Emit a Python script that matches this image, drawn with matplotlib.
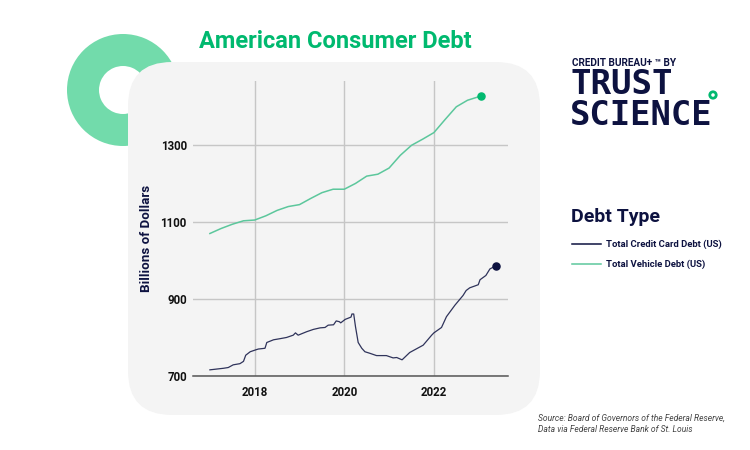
import matplotlib
matplotlib.use('Agg')
import matplotlib.pyplot as plt
from matplotlib.patches import FancyBboxPatch, Wedge, Circle

plt.rcParams['font.family'] = ['Roboto', 'DejaVu Sans']

NAVY = '#0d1240'
GREEN = '#00b96f'
LINE_GREEN = '#5cc79c'
DONUT = '#72dbab'

# total vehicle debt, quarterly
vehicle_years = [2017.0, 2017.25, 2017.5, 2017.75, 2018.0, 2018.25, 2018.5, 2018.75,
                 2019.0, 2019.25, 2019.5, 2019.75, 2020.0, 2020.25, 2020.5, 2020.75,
                 2021.0, 2021.25, 2021.5, 2021.75, 2022.0, 2022.25, 2022.5, 2022.75, 2023.05]
vehicle_debt = [1070, 1083, 1094, 1103, 1105, 1116, 1130, 1140,
                1145, 1161, 1176, 1185, 1185, 1200, 1219, 1224,
                1240, 1273, 1299, 1315, 1332, 1366, 1399, 1416, 1427]

# total credit card debt
card_years = [2017.00, 2017.15, 2017.30, 2017.41, 2017.52, 2017.67, 2017.75, 2017.80, 2017.90,
              2018.00, 2018.08, 2018.23, 2018.27, 2018.42, 2018.57, 2018.71, 2018.86, 2018.91,
              2018.97, 2019.16, 2019.31, 2019.46, 2019.57, 2019.64, 2019.76, 2019.82, 2019.89,
              2019.92, 2020.02, 2020.15, 2020.17, 2020.21, 2020.25, 2020.31, 2020.39, 2020.46,
              2020.57, 2020.72, 2020.94, 2021.09, 2021.17, 2021.29, 2021.46, 2021.76, 2021.95,
              2022.00, 2022.17, 2022.28, 2022.47, 2022.65, 2022.72, 2022.80, 2022.92, 2022.99,
              2023.03, 2023.16, 2023.25, 2023.38]
card_debt = [716, 718, 720, 722, 729, 732, 738, 754, 763,
             767, 770, 772, 787, 794, 797, 800, 806, 812,
             806, 815, 821, 825, 826, 832, 833, 843, 841,
             838, 847, 853, 861, 861, 828, 787, 772, 763,
             759, 753, 753, 747, 748, 742, 761, 780, 806,
             812, 826, 854, 884, 909, 922, 929, 934, 937,
             950, 961, 978, 986]

x_ticks = [2018, 2020, 2022]
y_ticks = [700, 900, 1100, 1300]

fig = plt.figure(figsize=(7.5, 4.5), dpi=100, facecolor='white')

# background layer in pixels
bg = fig.add_axes([0, 0, 1, 1], zorder=0)
bg.set_xlim(0, 750)
bg.set_ylim(450, 0)
bg.axis('off')

bg.add_patch(Wedge((123, 90), 56, 0, 360, width=32, facecolor=DONUT, edgecolor='none'))
bg.add_patch(FancyBboxPatch((172, 106), 324, 265, boxstyle='round,pad=44,rounding_size=44',
                            facecolor='#f4f4f4', edgecolor='none'))

bg.text(335, 41, 'American Consumer Debt', color=GREEN, fontsize=17, fontweight='bold',
        ha='center', va='center')

# logo
bg.text(572, 63, 'CREDIT BUREAU+ ™ BY', color=NAVY, fontsize=7.2, fontweight='bold', va='center')
bg.text(570, 84, 'TRUST', color=NAVY, fontsize=24.6, fontweight='bold', family='DejaVu Sans Mono',
        va='center')
bg.text(570, 115.5, 'SCIENCE', color=NAVY, fontsize=24.4, fontweight='bold', family='DejaVu Sans Mono',
        va='center')
bg.add_patch(Circle((713, 95), 3.2, facecolor='white', edgecolor=GREEN, linewidth=2))

# legend
bg.text(571, 217, 'Debt Type', color=NAVY, fontsize=14, fontweight='bold', va='center')
bg.plot([572, 601], [244, 244], color=NAVY, lw=1.1)
bg.plot([572, 601], [264, 264], color=LINE_GREEN, lw=1.1)
bg.text(606, 244, 'Total Credit Card Debt (US)', color=NAVY, fontsize=6.8, fontweight='bold', va='center')
bg.text(606, 264, 'Total Vehicle Debt (US)', color=NAVY, fontsize=6.8, fontweight='bold', va='center')

bg.text(538, 418, 'Source: Board of Governors of the Federal Reserve,', color='#444444',
        fontsize=6.15, style='italic', va='center')
bg.text(538, 429, 'Data via Federal Reserve Bank of St. Louis', color='#444444',
        fontsize=6.15, style='italic', va='center')

# chart: 193-508 px wide, 81-376 px tall
ax = fig.add_axes([193 / 750, 1 - 376 / 450, 315 / 750, 295 / 450], zorder=1)
ax.patch.set_alpha(0)
ax.set_xlim(2016.623, 2023.654)
ax.set_ylim(700, 1466)

ax.grid(True, color='#c6c6c6', linewidth=1)
ax.set_axisbelow(True)
for side in ['top', 'right', 'left']:
    ax.spines[side].set_visible(False)
ax.spines['bottom'].set_color('#555555')
ax.spines['bottom'].set_linewidth(1.1)

ax.plot(vehicle_years, vehicle_debt, color=LINE_GREEN, lw=1.1)
ax.plot(card_years, card_debt, color=NAVY, lw=0.9, alpha=0.85)
ax.scatter(vehicle_years[-1], vehicle_debt[-1], s=26, color=GREEN, zorder=3, clip_on=False)
ax.scatter(card_years[-1], card_debt[-1], s=26, color=NAVY, zorder=3, clip_on=False)

ax.set_xticks(x_ticks)
ax.set_yticks(y_ticks)
ax.tick_params(axis='x', length=0, pad=7, labelsize=8.3, labelcolor='#111111')
ax.tick_params(axis='y', length=0, pad=4.5, labelsize=8.3, labelcolor='#111111')
for lab in ax.get_xticklabels() + ax.get_yticklabels():
    lab.set_fontweight('bold')

bg.text(146, 238, 'Billions of Dollars', color=NAVY, fontsize=9.6, fontweight='bold',
        rotation=90, ha='center', va='center')

fig.savefig('out.png', dpi=100)
